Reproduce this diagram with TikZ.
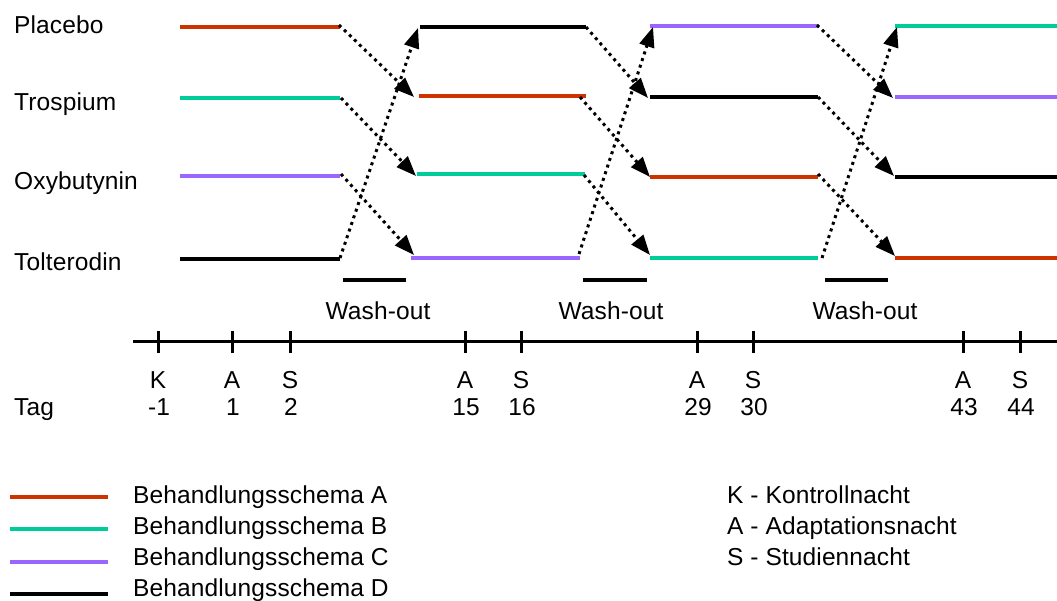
\documentclass[tikz,border=0pt]{standalone}
\usepackage{fontspec}
\setmainfont{Liberation Sans}[LetterSpace=0.5]
\usetikzlibrary{arrows.meta}
\definecolor{schA}{HTML}{CC3300}
\definecolor{schB}{HTML}{00CC99}
\definecolor{schC}{HTML}{9966FF}
\definecolor{schD}{HTML}{000000}
\begin{document}
\begin{tikzpicture}[x=1pt,y=-1pt,
  txt/.style={font=\fontsize{24.5}{29}\selectfont, inner sep=0pt, text height=17.2pt, text depth=0pt},
  lab/.style={txt, anchor=west},
  seg/.style={line width=4pt},
  arr/.style={line width=3pt, dash pattern=on 3pt off 4pt, -{Triangle[length=20pt,width=15pt]}},
  axisline/.style={line width=3pt},
  washbar/.style={line width=4pt}]
\useasboundingbox (0,0) rectangle (1057,600);

% row labels
\node[lab] (lP) at (14,25) {Placebo};
\node[lab] (lT) at (14,102) {Trospium};
\node[lab] (lO) at (14,181) {Oxybutynin};
\node[lab] (lL) at (14,262) {Tolterodin};

% phase 1
\coordinate (s1P) at (180,27);  \coordinate (e1P) at (340,27);
\coordinate (s1T) at (180,98);  \coordinate (e1T) at (340,98);
\coordinate (s1O) at (180,176); \coordinate (e1O) at (340,176);
\coordinate (s1L) at (180,259); \coordinate (e1L) at (340,259);
\draw[seg,schA] (s1P) -- (e1P);
\draw[seg,schB] (s1T) -- (e1T);
\draw[seg,schC] (s1O) -- (e1O);
\draw[seg,schD] (s1L) -- (e1L);

% phase 2
\coordinate (s2P) at (420,27);  \coordinate (e2P) at (586,27);
\coordinate (s2T) at (419,96);  \coordinate (e2T) at (586,96);
\coordinate (s2O) at (417,174); \coordinate (e2O) at (585,174);
\coordinate (s2L) at (411,258); \coordinate (e2L) at (580,258);
\draw[seg,schD] (s2P) -- (e2P);
\draw[seg,schA] (s2T) -- (e2T);
\draw[seg,schB] (s2O) -- (e2O);
\draw[seg,schC] (s2L) -- (e2L);

% phase 3
\coordinate (s3P) at (650,26);  \coordinate (e3P) at (818,26);
\coordinate (s3T) at (650,97);  \coordinate (e3T) at (818,97);
\coordinate (s3O) at (650,177); \coordinate (e3O) at (818,177);
\coordinate (s3L) at (650,258); \coordinate (e3L) at (818,258);
\draw[seg,schC] (s3P) -- (e3P);
\draw[seg,schD] (s3T) -- (e3T);
\draw[seg,schA] (s3O) -- (e3O);
\draw[seg,schB] (s3L) -- (e3L);

% phase 4
\coordinate (s4P) at (895,26);  \coordinate (e4P) at (1057,26);
\coordinate (s4T) at (895,97);  \coordinate (e4T) at (1057,97);
\coordinate (s4O) at (895,177); \coordinate (e4O) at (1057,177);
\coordinate (s4L) at (895,258); \coordinate (e4L) at (1057,258);
\draw[seg,schB] (s4P) -- (e4P);
\draw[seg,schC] (s4T) -- (e4T);
\draw[seg,schD] (s4O) -- (e4O);
\draw[seg,schA] (s4L) -- (e4L);

% crossover arrows
\coordinate (a1P) at (339,25);  \coordinate (t1P) at (414,97);
\coordinate (a1T) at (341,98);  \coordinate (t1T) at (416,176);
\coordinate (a1O) at (341,174); \coordinate (t1O) at (414,255);
\coordinate (a1L) at (340,258); \coordinate (t1L) at (418,28);
\coordinate (a2P) at (586,27);  \coordinate (t2P) at (648,98);
\coordinate (a2T) at (580,97);  \coordinate (t2T) at (650,177);
\coordinate (a2O) at (584,175); \coordinate (t2O) at (650,255);
\coordinate (a2L) at (579,254); \coordinate (t2L) at (653,27);
\coordinate (a3P) at (817,25);  \coordinate (t3P) at (893,98);
\coordinate (a3T) at (818,97);  \coordinate (t3T) at (894,176);
\coordinate (a3O) at (818,174); \coordinate (t3O) at (895,256);
\coordinate (a3L) at (822,258); \coordinate (t3L) at (897,27);
\foreach \k in {1,2,3}{
  \foreach \r in {P,T,O,L}{
    \draw[arr] (a\k\r) -- (t\k\r);
  }
}

% wash-out
\coordinate (w1a) at (343,280); \coordinate (w1b) at (406,280);
\coordinate (w2a) at (583,280); \coordinate (w2b) at (647,280);
\coordinate (w3a) at (825,280); \coordinate (w3b) at (888,280);
\draw[washbar] (w1a) -- (w1b);
\draw[washbar] (w2a) -- (w2b);
\draw[washbar] (w3a) -- (w3b);
\node[txt] (wl1) at (378,311) {Wash-out};
\node[txt] (wl2) at (611,311) {Wash-out};
\node[txt] (wl3) at (865,311) {Wash-out};

% time axis
\coordinate (ax0) at (133,341); \coordinate (ax1) at (1057,341);
\draw[axisline] (ax0) -- (ax1);
\foreach \x/\l/\n [count=\i] in {158/K/-1, 232/A/1, 290/S/2, 465/A/15, 521/S/16, 697/A/29, 753/S/30, 963/A/43, 1020/S/44}{
  \coordinate (tk\i a) at (\x,331);
  \coordinate (tk\i b) at (\x,353);
  \draw[axisline] (tk\i a) -- (tk\i b);
  \node[txt] (let\i) at (\x,380) {\l};
  \node[txt] (num\i) at (\x+1,407) {\n};
}
\node[lab] (tag) at (14,407) {Tag};

% legend
\foreach \c/\y/\t/\n in {schA/497/495/A, schB/529/526/B, schC/562/557/C, schD/594/588/D}{
  \coordinate (lg\n a) at (10,\y);
  \coordinate (lg\n b) at (108,\y);
  \draw[seg,\c] (lg\n a) -- (lg\n b);
  \node[lab] (lt\n) at (133,\t) {Behandlungsschema \n};
}
\node[lab] (kK) at (727,495) {K - Kontrollnacht};
\node[lab] (kA) at (727,526) {A - Adaptationsnacht};
\node[lab] (kS) at (727,557) {S - Studiennacht};
\end{tikzpicture}
\end{document}
